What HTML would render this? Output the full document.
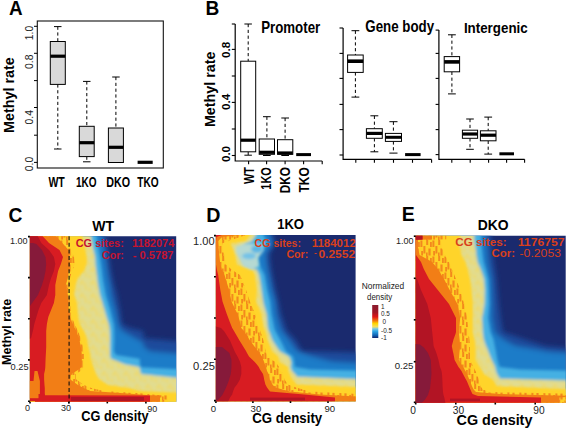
<!DOCTYPE html>
<html><head><meta charset="utf-8"><title>Figure</title>
<style>html,body{margin:0;padding:0;background:#fff;}body{width:567px;height:429px;overflow:hidden;}svg{display:block;font-family:'Liberation Sans', sans-serif;}</style></head><body>
<svg width="567" height="429" viewBox="0 0 567 429">
<rect width="567" height="429" fill="#fff"/>
<text x="9.0" y="15.1" font-size="20" font-weight="bold" textLength="13.6" lengthAdjust="spacingAndGlyphs">A</text>
<rect x="37.3" y="21" width="126.0" height="147.0" fill="#fff" stroke="#111" stroke-width="1.1"/>
<line x1="34.0" y1="26.3" x2="37.3" y2="26.3" stroke="#000" stroke-width="1"/>
<line x1="34.0" y1="53.3" x2="37.3" y2="53.3" stroke="#000" stroke-width="1"/>
<line x1="34.0" y1="80.6" x2="37.3" y2="80.6" stroke="#000" stroke-width="1"/>
<line x1="34.0" y1="107.5" x2="37.3" y2="107.5" stroke="#000" stroke-width="1"/>
<line x1="34.0" y1="135.2" x2="37.3" y2="135.2" stroke="#000" stroke-width="1"/>
<line x1="34.0" y1="162.4" x2="37.3" y2="162.4" stroke="#000" stroke-width="1"/>
<text x="33.3" y="33.0" font-size="10" fill="#222" text-anchor="middle" textLength="14.4" lengthAdjust="spacingAndGlyphs" transform="rotate(-90 33.3 33.0)">1.0</text>
<text x="33.3" y="61.8" font-size="10" fill="#222" text-anchor="middle" textLength="14.4" lengthAdjust="spacingAndGlyphs" transform="rotate(-90 33.3 61.8)">0.8</text>
<text x="33.3" y="117.2" font-size="10" fill="#222" text-anchor="middle" textLength="14.4" lengthAdjust="spacingAndGlyphs" transform="rotate(-90 33.3 117.2)">0.4</text>
<text x="33.3" y="164.0" font-size="10" fill="#222" text-anchor="middle" textLength="14.4" lengthAdjust="spacingAndGlyphs" transform="rotate(-90 33.3 164.0)">0.0</text>
<text x="13.6" y="95.1" font-size="15.5" font-weight="bold" text-anchor="middle" textLength="75.6" lengthAdjust="spacingAndGlyphs" transform="rotate(-90 13.6 95.1)">Methyl rate</text>
<line x1="57.8" y1="26.6" x2="57.8" y2="41.5" stroke="#000" stroke-width="1" stroke-dasharray="3.2,2.6"/>
<line x1="57.8" y1="84.4" x2="57.8" y2="149.0" stroke="#000" stroke-width="1" stroke-dasharray="3.2,2.6"/>
<line x1="54.0" y1="26.6" x2="61.5" y2="26.6" stroke="#000" stroke-width="1"/>
<line x1="54.0" y1="149.0" x2="61.5" y2="149.0" stroke="#000" stroke-width="1"/>
<rect x="50.3" y="41.5" width="15.0" height="42.9" fill="#d9d9d9" stroke="#000" stroke-width="1"/>
<line x1="50.3" y1="56.2" x2="65.3" y2="56.2" stroke="#000" stroke-width="3.2"/>
<line x1="86.8" y1="81.4" x2="86.8" y2="126.3" stroke="#000" stroke-width="1" stroke-dasharray="3.2,2.6"/>
<line x1="86.8" y1="156.6" x2="86.8" y2="161.8" stroke="#000" stroke-width="1" stroke-dasharray="3.2,2.6"/>
<line x1="83.0" y1="81.4" x2="90.5" y2="81.4" stroke="#000" stroke-width="1"/>
<line x1="83.0" y1="161.8" x2="90.5" y2="161.8" stroke="#000" stroke-width="1"/>
<rect x="79.3" y="126.3" width="14.9" height="30.3" fill="#d9d9d9" stroke="#000" stroke-width="1"/>
<line x1="79.3" y1="142.7" x2="94.2" y2="142.7" stroke="#000" stroke-width="3.2"/>
<line x1="115.9" y1="77.0" x2="115.9" y2="128.0" stroke="#000" stroke-width="1" stroke-dasharray="3.2,2.6"/>
<line x1="115.9" y1="162.5" x2="115.9" y2="162.5" stroke="#000" stroke-width="1" stroke-dasharray="3.2,2.6"/>
<line x1="112.2" y1="77.0" x2="119.7" y2="77.0" stroke="#000" stroke-width="1"/>
<line x1="112.2" y1="162.5" x2="119.7" y2="162.5" stroke="#000" stroke-width="1"/>
<rect x="108.4" y="128.0" width="15.0" height="34.5" fill="#d9d9d9" stroke="#000" stroke-width="1"/>
<line x1="108.4" y1="147.3" x2="123.4" y2="147.3" stroke="#000" stroke-width="3.2"/>
<line x1="137.6" y1="162.3" x2="152.7" y2="162.3" stroke="#000" stroke-width="3.2"/>
<text x="56.6" y="187.0" font-size="15.4" font-weight="bold" text-anchor="middle" textLength="16.4" lengthAdjust="spacingAndGlyphs">WT</text>
<text x="86.2" y="187.0" font-size="15.4" font-weight="bold" text-anchor="middle" textLength="20.6" lengthAdjust="spacingAndGlyphs">1KO</text>
<text x="118.1" y="187.0" font-size="15.4" font-weight="bold" text-anchor="middle" textLength="23.8" lengthAdjust="spacingAndGlyphs">DKO</text>
<text x="148.0" y="187.0" font-size="15.4" font-weight="bold" text-anchor="middle" textLength="21.4" lengthAdjust="spacingAndGlyphs">TKO</text>
<text x="205.6" y="15.1" font-size="20" font-weight="bold" textLength="13.8" lengthAdjust="spacingAndGlyphs">B</text>
<path d="M235.2 24 V161 H322.2" fill="none" stroke="#000" stroke-width="1.2"/>
<line x1="231.8" y1="24.0" x2="235.2" y2="24.0" stroke="#000" stroke-width="1.1"/>
<line x1="231.8" y1="49.4" x2="235.2" y2="49.4" stroke="#000" stroke-width="1.1"/>
<line x1="231.8" y1="76.0" x2="235.2" y2="76.0" stroke="#000" stroke-width="1.1"/>
<line x1="231.8" y1="102.4" x2="235.2" y2="102.4" stroke="#000" stroke-width="1.1"/>
<line x1="231.8" y1="129.0" x2="235.2" y2="129.0" stroke="#000" stroke-width="1.1"/>
<line x1="231.8" y1="155.5" x2="235.2" y2="155.5" stroke="#000" stroke-width="1.1"/>
<line x1="248.6" y1="161.0" x2="248.6" y2="164.3" stroke="#000" stroke-width="1.1"/>
<line x1="266.6" y1="161.0" x2="266.6" y2="164.3" stroke="#000" stroke-width="1.1"/>
<line x1="285.1" y1="161.0" x2="285.1" y2="164.3" stroke="#000" stroke-width="1.1"/>
<line x1="303.6" y1="161.0" x2="303.6" y2="164.3" stroke="#000" stroke-width="1.1"/>
<line x1="322.2" y1="161.0" x2="322.2" y2="164.3" stroke="#000" stroke-width="1.1"/>
<text x="229.6" y="49.8" font-size="10.6" font-weight="bold" text-anchor="middle" textLength="16.2" lengthAdjust="spacingAndGlyphs" transform="rotate(-90 229.6 49.8)">0.8</text>
<text x="229.6" y="101.9" font-size="10.6" font-weight="bold" text-anchor="middle" textLength="16.2" lengthAdjust="spacingAndGlyphs" transform="rotate(-90 229.6 101.9)">0.4</text>
<text x="229.6" y="154.0" font-size="10.6" font-weight="bold" text-anchor="middle" textLength="16.2" lengthAdjust="spacingAndGlyphs" transform="rotate(-90 229.6 154.0)">0.0</text>
<text x="215.1" y="89.3" font-size="15.5" font-weight="bold" text-anchor="middle" textLength="75.6" lengthAdjust="spacingAndGlyphs" transform="rotate(-90 215.1 89.3)">Methyl rate</text>
<line x1="248.2" y1="24.0" x2="248.2" y2="61.2" stroke="#000" stroke-width="1" stroke-dasharray="3.2,2.6"/>
<line x1="248.2" y1="151.8" x2="248.2" y2="155.2" stroke="#000" stroke-width="1" stroke-dasharray="3.2,2.6"/>
<line x1="244.4" y1="24.0" x2="251.9" y2="24.0" stroke="#000" stroke-width="1"/>
<line x1="244.4" y1="155.2" x2="251.9" y2="155.2" stroke="#000" stroke-width="1"/>
<rect x="240.7" y="61.2" width="15.0" height="90.6" fill="#fff" stroke="#000" stroke-width="1"/>
<line x1="240.7" y1="140.2" x2="255.7" y2="140.2" stroke="#000" stroke-width="3.2"/>
<line x1="266.9" y1="116.7" x2="266.9" y2="139.0" stroke="#000" stroke-width="1" stroke-dasharray="3.2,2.6"/>
<line x1="266.9" y1="154.3" x2="266.9" y2="155.5" stroke="#000" stroke-width="1" stroke-dasharray="3.2,2.6"/>
<line x1="263.0" y1="116.7" x2="270.7" y2="116.7" stroke="#000" stroke-width="1"/>
<line x1="263.0" y1="155.5" x2="270.7" y2="155.5" stroke="#000" stroke-width="1"/>
<rect x="259.2" y="139.0" width="15.3" height="15.3" fill="#fff" stroke="#000" stroke-width="1"/>
<line x1="259.2" y1="152.3" x2="274.5" y2="152.3" stroke="#000" stroke-width="3.2"/>
<line x1="285.1" y1="118.0" x2="285.1" y2="139.7" stroke="#000" stroke-width="1" stroke-dasharray="3.2,2.6"/>
<line x1="285.1" y1="154.3" x2="285.1" y2="155.5" stroke="#000" stroke-width="1" stroke-dasharray="3.2,2.6"/>
<line x1="281.3" y1="118.0" x2="289.0" y2="118.0" stroke="#000" stroke-width="1"/>
<line x1="281.3" y1="155.5" x2="289.0" y2="155.5" stroke="#000" stroke-width="1"/>
<rect x="277.5" y="139.7" width="15.3" height="14.6" fill="#fff" stroke="#000" stroke-width="1"/>
<line x1="277.5" y1="153.0" x2="292.8" y2="153.0" stroke="#000" stroke-width="3.2"/>
<line x1="296.2" y1="154.6" x2="311.0" y2="154.6" stroke="#000" stroke-width="3.0"/>
<text x="261.2" y="32.7" font-size="16.3" font-weight="bold" textLength="59.0" lengthAdjust="spacingAndGlyphs">Promoter</text>
<text x="253.6" y="167.2" font-size="13.8" font-weight="bold" text-anchor="end" textLength="16.9" lengthAdjust="spacingAndGlyphs" transform="rotate(-90 253.6 167.2)">WT</text>
<text x="271.3" y="167.2" font-size="13.8" font-weight="bold" text-anchor="end" textLength="22.5" lengthAdjust="spacingAndGlyphs" transform="rotate(-90 271.3 167.2)">1KO</text>
<text x="289.6" y="167.2" font-size="13.8" font-weight="bold" text-anchor="end" textLength="26.1" lengthAdjust="spacingAndGlyphs" transform="rotate(-90 289.6 167.2)">DKO</text>
<text x="308.7" y="167.2" font-size="13.8" font-weight="bold" text-anchor="end" textLength="25.4" lengthAdjust="spacingAndGlyphs" transform="rotate(-90 308.7 167.2)">TKO</text>
<path d="M343.1 28 V159.4 H431.6" fill="none" stroke="#000" stroke-width="1.2"/>
<line x1="339.5" y1="28.0" x2="343.1" y2="28.0" stroke="#000" stroke-width="1.1"/>
<line x1="339.5" y1="53.4" x2="343.1" y2="53.4" stroke="#000" stroke-width="1.1"/>
<line x1="339.5" y1="78.4" x2="343.1" y2="78.4" stroke="#000" stroke-width="1.1"/>
<line x1="339.5" y1="104.4" x2="343.1" y2="104.4" stroke="#000" stroke-width="1.1"/>
<line x1="339.5" y1="129.6" x2="343.1" y2="129.6" stroke="#000" stroke-width="1.1"/>
<line x1="339.5" y1="155.0" x2="343.1" y2="155.0" stroke="#000" stroke-width="1.1"/>
<line x1="355.8" y1="159.4" x2="355.8" y2="162.8" stroke="#000" stroke-width="1.1"/>
<line x1="374.4" y1="159.4" x2="374.4" y2="162.8" stroke="#000" stroke-width="1.1"/>
<line x1="393.5" y1="159.4" x2="393.5" y2="162.8" stroke="#000" stroke-width="1.1"/>
<line x1="412.5" y1="159.4" x2="412.5" y2="162.8" stroke="#000" stroke-width="1.1"/>
<line x1="431.6" y1="159.4" x2="431.6" y2="162.8" stroke="#000" stroke-width="1.1"/>
<line x1="355.4" y1="30.7" x2="355.4" y2="55.0" stroke="#000" stroke-width="1" stroke-dasharray="3.2,2.6"/>
<line x1="355.4" y1="72.4" x2="355.4" y2="97.1" stroke="#000" stroke-width="1" stroke-dasharray="3.2,2.6"/>
<line x1="351.5" y1="30.7" x2="359.3" y2="30.7" stroke="#000" stroke-width="1"/>
<line x1="351.5" y1="97.1" x2="359.3" y2="97.1" stroke="#000" stroke-width="1"/>
<rect x="347.6" y="55.0" width="15.6" height="17.4" fill="#fff" stroke="#000" stroke-width="1"/>
<line x1="347.6" y1="61.2" x2="363.2" y2="61.2" stroke="#000" stroke-width="3.6"/>
<line x1="374.4" y1="115.8" x2="374.4" y2="128.7" stroke="#000" stroke-width="1" stroke-dasharray="3.2,2.6"/>
<line x1="374.4" y1="138.3" x2="374.4" y2="151.8" stroke="#000" stroke-width="1" stroke-dasharray="3.2,2.6"/>
<line x1="370.4" y1="115.8" x2="378.3" y2="115.8" stroke="#000" stroke-width="1"/>
<line x1="370.4" y1="151.8" x2="378.3" y2="151.8" stroke="#000" stroke-width="1"/>
<rect x="366.4" y="128.7" width="15.9" height="9.6" fill="#fff" stroke="#000" stroke-width="1"/>
<line x1="366.4" y1="133.4" x2="382.3" y2="133.4" stroke="#000" stroke-width="3.2"/>
<line x1="393.4" y1="121.7" x2="393.4" y2="133.4" stroke="#000" stroke-width="1" stroke-dasharray="3.2,2.6"/>
<line x1="393.4" y1="141.4" x2="393.4" y2="153.1" stroke="#000" stroke-width="1" stroke-dasharray="3.2,2.6"/>
<line x1="389.4" y1="121.7" x2="397.5" y2="121.7" stroke="#000" stroke-width="1"/>
<line x1="389.4" y1="153.1" x2="397.5" y2="153.1" stroke="#000" stroke-width="1"/>
<rect x="385.4" y="133.4" width="16.1" height="8.0" fill="#fff" stroke="#000" stroke-width="1"/>
<line x1="385.4" y1="137.3" x2="401.5" y2="137.3" stroke="#000" stroke-width="3.0"/>
<line x1="405.1" y1="154.6" x2="420.6" y2="154.6" stroke="#000" stroke-width="3.0"/>
<text x="365.3" y="31.8" font-size="15.8" font-weight="bold" textLength="68.8" lengthAdjust="spacingAndGlyphs">Gene body</text>
<path d="M438.9 30.1 V159.3 H524.6" fill="none" stroke="#000" stroke-width="1.2"/>
<line x1="435.6" y1="30.1" x2="438.9" y2="30.1" stroke="#000" stroke-width="1.1"/>
<line x1="435.6" y1="53.4" x2="438.9" y2="53.4" stroke="#000" stroke-width="1.1"/>
<line x1="435.6" y1="78.4" x2="438.9" y2="78.4" stroke="#000" stroke-width="1.1"/>
<line x1="435.6" y1="104.4" x2="438.9" y2="104.4" stroke="#000" stroke-width="1.1"/>
<line x1="435.6" y1="129.6" x2="438.9" y2="129.6" stroke="#000" stroke-width="1.1"/>
<line x1="435.6" y1="154.6" x2="438.9" y2="154.6" stroke="#000" stroke-width="1.1"/>
<line x1="451.8" y1="159.3" x2="451.8" y2="162.7" stroke="#000" stroke-width="1.1"/>
<line x1="470.2" y1="159.3" x2="470.2" y2="162.7" stroke="#000" stroke-width="1.1"/>
<line x1="488.6" y1="159.3" x2="488.6" y2="162.7" stroke="#000" stroke-width="1.1"/>
<line x1="506.6" y1="159.3" x2="506.6" y2="162.7" stroke="#000" stroke-width="1.1"/>
<line x1="524.6" y1="159.3" x2="524.6" y2="162.7" stroke="#000" stroke-width="1.1"/>
<line x1="451.9" y1="34.8" x2="451.9" y2="56.6" stroke="#000" stroke-width="1" stroke-dasharray="3.2,2.6"/>
<line x1="451.9" y1="71.8" x2="451.9" y2="93.9" stroke="#000" stroke-width="1" stroke-dasharray="3.2,2.6"/>
<line x1="448.0" y1="34.8" x2="455.8" y2="34.8" stroke="#000" stroke-width="1"/>
<line x1="448.0" y1="93.9" x2="455.8" y2="93.9" stroke="#000" stroke-width="1"/>
<rect x="444.2" y="56.6" width="15.4" height="15.2" fill="#fff" stroke="#000" stroke-width="1"/>
<line x1="444.2" y1="61.9" x2="459.6" y2="61.9" stroke="#000" stroke-width="3.6"/>
<line x1="470.0" y1="119.0" x2="470.0" y2="130.2" stroke="#000" stroke-width="1" stroke-dasharray="3.2,2.6"/>
<line x1="470.0" y1="138.3" x2="470.0" y2="149.3" stroke="#000" stroke-width="1" stroke-dasharray="3.2,2.6"/>
<line x1="466.2" y1="119.0" x2="473.8" y2="119.0" stroke="#000" stroke-width="1"/>
<line x1="466.2" y1="149.3" x2="473.8" y2="149.3" stroke="#000" stroke-width="1"/>
<rect x="462.4" y="130.2" width="15.2" height="8.1" fill="#fff" stroke="#000" stroke-width="1"/>
<line x1="462.4" y1="134.0" x2="477.6" y2="134.0" stroke="#000" stroke-width="3.2"/>
<line x1="488.2" y1="117.1" x2="488.2" y2="130.8" stroke="#000" stroke-width="1" stroke-dasharray="3.2,2.6"/>
<line x1="488.2" y1="140.8" x2="488.2" y2="154.1" stroke="#000" stroke-width="1" stroke-dasharray="3.2,2.6"/>
<line x1="484.3" y1="117.1" x2="492.1" y2="117.1" stroke="#000" stroke-width="1"/>
<line x1="484.3" y1="154.1" x2="492.1" y2="154.1" stroke="#000" stroke-width="1"/>
<rect x="480.4" y="130.8" width="15.6" height="10.0" fill="#fff" stroke="#000" stroke-width="1"/>
<line x1="480.4" y1="135.2" x2="496.0" y2="135.2" stroke="#000" stroke-width="3.2"/>
<line x1="499.4" y1="153.8" x2="514.0" y2="153.8" stroke="#000" stroke-width="3.0"/>
<text x="463.9" y="32.9" font-size="15.4" font-weight="bold" textLength="63.8" lengthAdjust="spacingAndGlyphs">Intergenic</text>
<defs><filter id="blur3" x="-20%" y="-20%" width="140%" height="140%"><feGaussianBlur stdDeviation="2.4"/></filter><filter id="blur2" x="-20%" y="-20%" width="140%" height="140%"><feGaussianBlur stdDeviation="1.7"/></filter><filter id="blur07" x="-20%" y="-20%" width="140%" height="140%"><feGaussianBlur stdDeviation="0.45"/></filter><filter id="blur1" x="-20%" y="-20%" width="140%" height="140%"><feGaussianBlur stdDeviation="1"/></filter><pattern id="spk" width="12" height="16" patternUnits="userSpaceOnUse"><rect width="12" height="16" fill="#ffd028"/><g fill="#f3891a"><rect x="0.4" y="0.5" width="2" height="6.5"/><rect x="3.4" y="6" width="2" height="7.5"/><rect x="6.2" y="0" width="2" height="5"/><rect x="8.4" y="8.5" width="2.2" height="7"/><rect x="10" y="2" width="1.8" height="5"/><rect x="1.2" y="11" width="1.8" height="4.5"/><rect x="6" y="12.5" width="1.6" height="3.5"/></g></pattern><pattern id="pspk" width="11" height="13" patternUnits="userSpaceOnUse"><rect width="11" height="13" fill="#e1dc90"/><g fill="#f6d648"><rect x="1" y="2" width="1.5" height="3"/><rect x="4.5" y="7" width="1.5" height="3.5"/><rect x="8" y="0.5" width="1.5" height="3"/><rect x="7" y="10" width="1.5" height="2.5"/><rect x="2.5" y="9.5" width="1.3" height="2.5"/></g></pattern><linearGradient id="cbar" x1="0" y1="0" x2="0" y2="1"><stop offset="0" stop-color="#8a1c2e"/><stop offset="0.22" stop-color="#a01424"/><stop offset="0.36" stop-color="#e01414"/><stop offset="0.47" stop-color="#f0700f"/><stop offset="0.56" stop-color="#ffd400"/><stop offset="0.66" stop-color="#f4e060"/><stop offset="0.72" stop-color="#7cc8e4"/><stop offset="0.80" stop-color="#2ca4e4"/><stop offset="0.92" stop-color="#0f62b4"/><stop offset="1" stop-color="#10246c"/></linearGradient></defs>
<clipPath id="clipC"><rect x="29.9" y="236.2" width="146.3" height="165.6"/></clipPath>
<g clip-path="url(#clipC)">
<rect x="24.9" y="231.2" width="156.3" height="175.6" fill="#1a2a6e"/>
<g filter="url(#blur3)">
<polygon points="17.9,224.2 106.0,224.2 106.0,236.2 107.0,243.0 108.0,250.0 109.0,257.0 110.0,264.0 111.0,271.0 112.5,278.0 114.0,285.0 117.0,295.0 118.5,303.0 120.0,310.0 121.0,317.0 122.1,324.0 130.0,328.0 143.0,331.0 144.0,338.3 190.2,342.6 190.2,347.0 190.2,351.6 190.2,355.0 190.2,358.7 190.2,364.3 190.2,367.2 190.2,370.0 190.2,374.0 190.2,379.2 190.2,385.0 190.2,388.3 190.2,391.0 190.2,393.3 190.2,395.3 190.2,395.4 190.2,402.5 190.2,414.5 17.9,414.5" fill="#1c4c9c"/>
<polygon points="17.9,224.2 102.0,224.2 102.0,236.2 103.0,243.0 104.0,250.0 105.0,257.0 106.0,264.0 107.0,271.0 108.0,278.0 109.5,285.0 111.0,295.0 113.0,303.0 115.0,310.0 116.5,317.0 118.0,324.0 119.5,328.0 122.0,331.0 135.0,338.3 143.0,342.6 143.5,347.0 150.0,351.6 190.2,355.0 190.2,358.7 190.2,364.3 190.2,367.2 190.2,370.0 190.2,374.0 190.2,379.2 190.2,385.0 190.2,388.3 190.2,391.0 190.2,393.3 190.2,395.3 190.2,395.4 190.2,402.5 190.2,414.5 17.9,414.5" fill="#1f7cc8"/>
</g>
<g filter="url(#blur2)">
<polygon points="17.9,224.2 96.5,224.2 96.5,236.2 97.3,243.0 98.5,250.0 99.8,257.0 100.8,264.0 101.8,271.0 102.6,278.0 103.8,285.0 105.6,295.0 108.0,303.0 110.1,310.0 111.8,317.0 113.6,324.0 114.0,328.0 114.2,331.0 114.3,338.3 114.3,342.6 114.0,347.0 114.0,351.6 116.0,355.0 139.7,358.7 140.0,364.3 141.0,367.2 190.2,370.0 190.2,374.0 190.2,379.2 190.2,385.0 190.2,388.3 190.2,391.0 190.2,393.3 190.2,395.3 190.2,395.4 190.2,402.5 190.2,414.5 17.9,414.5" fill="#44b0e3"/>
<polygon points="17.9,224.2 91.0,224.2 91.0,236.2 92.0,243.0 93.5,250.0 95.0,257.0 95.5,264.0 96.2,271.0 97.2,278.0 98.0,285.0 100.0,295.0 102.4,303.0 104.5,310.0 106.6,317.0 108.7,324.0 109.5,328.0 109.9,331.0 110.1,338.3 110.0,342.6 110.0,347.0 110.0,351.6 110.0,355.0 111.0,358.7 125.0,364.3 139.7,367.2 140.0,370.0 141.0,374.0 190.2,379.2 190.2,385.0 190.2,388.3 190.2,391.0 190.2,393.3 190.2,395.3 190.2,395.4 190.2,402.5 190.2,414.5 17.9,414.5" fill="url(#pspk)"/>
</g>
<g filter="url(#blur1)">
<polygon points="17.9,224.2 82.6,224.2 82.6,236.2 84.0,243.0 85.4,250.0 86.8,257.0 86.8,264.0 84.0,271.0 78.0,278.0 75.6,285.0 74.2,295.0 77.0,303.0 77.7,310.0 78.4,317.0 79.8,324.0 82.0,328.0 84.0,331.0 86.8,338.3 87.6,342.6 88.6,347.0 89.6,351.6 90.3,355.0 90.8,358.7 92.5,364.3 93.8,367.2 94.5,370.0 96.0,374.0 99.0,379.2 108.0,385.0 130.0,388.3 140.0,391.0 190.2,393.3 190.2,395.3 190.2,395.4 190.2,402.5 190.2,414.5 17.9,414.5" fill="#ffd42a"/>
</g>
<g filter="url(#blur07)">
<polygon points="17.9,224.2 68.6,224.2 68.6,236.2 68.6,243.0 71.0,250.0 74.0,257.0 75.0,264.0 72.0,271.0 70.0,278.0 69.0,285.0 69.5,295.0 70.0,303.0 70.5,310.0 72.0,317.0 74.5,324.0 76.5,328.0 78.0,331.0 81.0,338.3 82.0,342.6 83.0,347.0 84.0,351.6 84.0,355.0 84.0,358.7 84.0,364.3 84.0,367.2 82.0,370.0 76.0,374.0 76.0,379.2 84.0,385.0 92.0,388.3 104.0,391.0 140.0,393.3 160.0,395.3 168.0,395.4 168.0,402.5 168.0,414.5 17.9,414.5" fill="url(#spk)"/>
</g>
<polygon points="17.9,224.2 56.0,224.2 56.0,236.2 62.3,243.0 68.6,250.0 69.5,257.0 70.0,264.0 68.6,271.0 67.9,278.0 65.8,285.0 67.9,295.0 68.6,303.0 68.6,310.0 70.0,317.0 72.8,324.0 74.8,328.0 76.3,331.0 79.1,338.3 80.0,342.6 80.8,347.0 81.5,351.6 81.9,355.0 81.9,358.7 81.5,364.3 81.2,367.2 78.0,370.0 71.4,374.0 70.0,379.2 78.0,385.0 84.0,388.3 90.0,391.0 124.0,393.3 150.0,395.3 160.0,395.4 160.0,402.5 160.0,414.5 17.9,414.5" fill="#f27e16"/>
<polygon points="17.9,224.2 42.7,224.2 42.7,236.2 49.0,243.0 59.5,250.0 63.0,257.0 60.9,264.0 58.1,271.0 56.7,278.0 55.3,285.0 55.3,295.0 53.9,303.0 51.1,310.0 48.3,317.0 46.9,324.0 46.5,328.0 46.2,331.0 46.2,338.3 46.2,342.6 46.2,347.0 46.0,351.6 45.8,355.0 45.6,358.7 45.4,364.3 45.3,367.2 45.0,370.0 44.1,374.0 44.1,379.2 44.5,385.0 44.8,388.3 44.8,391.0 44.8,393.3 45.0,395.3 150.0,395.4 150.0,402.5 150.0,414.5 17.9,414.5" fill="#d81c22"/>
<polygon points="17.9,224.2 37.8,224.2 37.8,236.2 41.3,243.0 49.0,250.0 53.9,257.0 55.3,264.0 53.9,271.0 51.1,278.0 49.0,285.0 46.9,295.0 41.3,303.0 38.5,310.0 36.4,317.0 34.3,324.0 33.5,328.0 32.9,331.0 31.0,338.3 20.0,342.6 20.0,347.0 20.0,351.6 20.0,355.0 20.0,358.7 20.0,364.3 20.0,367.2 20.0,370.0 20.0,374.0 20.0,379.2 20.0,385.0 20.0,388.3 20.0,391.0 20.0,393.3 20.0,395.3 20.0,395.4 20.0,402.5 20.0,414.5 17.9,414.5" fill="#b21424"/>
<polygon points="30,243 33,243 36.4,244 42,250 45.5,257 46.2,264 45.5,271 44.1,278 42,285 38,295 34,300.5 30,306" fill="#861a3a"/><rect x="71" y="397" width="73" height="4" fill="#b21424"/><polygon points="29,381 33.5,381 34.5,371 37.5,371 39.9,381 39.9,394 29,394" fill="#f27e16"/><rect x="29" y="401" width="6" height="2" fill="#ffd42a"/><rect x="29" y="394" width="9.5" height="4.2" fill="#f27e16"/>
</g>
<line x1="69.1" y1="236.2" x2="69.1" y2="403.4" stroke="#111" stroke-width="1.1" stroke-dasharray="4,2.6"/>
<clipPath id="clipD"><rect x="215.9" y="235.1" width="139.7" height="166.1"/></clipPath>
<g clip-path="url(#clipD)">
<rect x="210.9" y="230.1" width="149.7" height="176.1" fill="#1a2a6e"/>
<g filter="url(#blur3)">
<polygon points="203.9,223.1 272.8,223.1 272.8,235.1 273.5,237.0 274.9,241.3 275.3,243.5 269.6,254.0 270.7,264.5 271.5,270.0 272.4,275.0 275.5,289.7 278.4,301.4 281.0,314.0 283.8,322.0 286.0,328.0 287.0,331.0 296.0,340.6 302.0,351.0 369.6,353.0 369.6,356.5 369.6,361.7 369.6,364.0 369.6,367.0 369.6,369.5 369.6,371.0 369.6,374.0 369.6,376.8 369.6,379.8 369.6,384.5 369.6,387.6 369.6,391.5 369.6,394.5 369.6,397.4 369.6,402.0 369.6,414.0 203.9,414.0" fill="#1c4c9c"/>
<polygon points="203.9,223.1 269.0,223.1 269.0,235.1 270.0,237.0 271.7,241.3 272.8,243.5 265.4,254.0 266.5,264.5 267.5,270.0 268.6,275.0 271.5,289.7 275.0,301.4 276.0,314.0 278.3,322.0 280.0,328.0 281.5,331.0 289.0,340.6 296.3,351.0 302.0,353.0 312.0,356.5 332.0,361.7 369.6,364.0 369.6,367.0 369.6,369.5 369.6,371.0 369.6,374.0 369.6,376.8 369.6,379.8 369.6,384.5 369.6,387.6 369.6,391.5 369.6,394.5 369.6,397.4 369.6,402.0 369.6,414.0 203.9,414.0" fill="#1f7cc8"/>
</g>
<g filter="url(#blur2)">
<polygon points="203.9,223.1 263.3,223.1 263.3,235.1 264.5,237.0 266.5,241.3 268.6,243.5 257.0,254.0 259.1,264.5 261.9,270.0 264.4,275.0 267.0,289.7 270.0,301.4 271.4,314.0 273.0,322.0 274.2,328.0 275.2,331.0 280.5,340.6 285.7,351.0 288.0,353.0 293.0,356.5 294.2,361.7 294.4,364.0 294.7,367.0 310.0,369.5 369.6,371.0 369.6,374.0 369.6,376.8 369.6,379.8 369.6,384.5 369.6,387.6 369.6,391.5 369.6,394.5 369.6,397.4 369.6,402.0 369.6,414.0 203.9,414.0" fill="#44b0e3"/>
<polygon points="203.9,223.1 256.0,223.1 256.0,235.1 254.5,237.0 251.8,241.3 245.5,243.5 239.2,254.0 245.5,264.5 257.0,270.0 259.1,275.0 261.5,289.7 263.0,301.4 266.5,314.0 267.3,322.0 267.9,328.0 268.8,331.0 272.5,340.6 279.4,351.0 282.5,353.0 289.0,356.5 291.0,361.7 291.0,364.0 290.5,367.0 291.5,369.5 292.0,371.0 295.0,374.0 297.0,376.8 369.6,379.8 369.6,384.5 369.6,387.6 369.6,391.5 369.6,394.5 369.6,397.4 369.6,402.0 369.6,414.0 203.9,414.0" fill="url(#pspk)"/>
</g>
<g filter="url(#blur1)">
<polygon points="203.9,223.1 250.0,223.1 250.0,235.1 249.0,237.0 245.5,241.3 230.8,243.5 235.0,254.0 237.1,264.5 252.8,270.0 254.9,275.0 257.0,289.7 256.0,301.4 261.6,314.0 262.8,322.0 263.7,328.0 265.6,331.0 267.8,340.6 272.0,351.0 274.0,353.0 278.3,356.5 279.4,361.7 283.0,364.0 287.9,367.0 288.2,369.5 288.5,371.0 289.5,374.0 291.0,376.8 293.0,379.8 297.0,384.5 369.6,387.6 369.6,391.5 369.6,394.5 369.6,397.4 369.6,402.0 369.6,414.0 203.9,414.0" fill="#ffd42a"/>
</g>
<g filter="url(#blur07)">
<polygon points="203.9,223.1 246.0,223.1 246.0,235.1 240.0,237.0 228.0,241.3 222.0,243.5 224.0,254.0 226.0,264.5 232.0,270.0 240.0,275.0 246.0,289.7 250.0,301.4 255.0,314.0 257.0,322.0 259.0,328.0 260.3,331.0 263.5,340.6 265.6,351.0 266.3,353.0 267.8,356.5 275.0,361.7 277.0,364.0 279.0,367.0 280.0,369.5 281.0,371.0 283.0,374.0 283.7,376.8 284.6,379.8 288.0,384.5 296.0,387.6 310.0,391.5 369.6,394.5 369.6,397.4 369.6,402.0 369.6,414.0 203.9,414.0" fill="url(#spk)"/>
</g>
<polygon points="203.9,223.1 240.0,223.1 240.0,235.1 222.0,237.0 218.0,241.3 218.2,243.5 219.2,254.0 220.3,264.5 222.0,270.0 224.5,275.0 229.0,289.7 231.5,301.4 237.5,314.0 240.0,322.0 241.3,328.0 244.0,331.0 250.0,340.6 258.0,351.0 259.5,353.0 262.0,356.5 264.0,361.7 264.8,364.0 265.8,367.0 266.5,369.5 267.0,371.0 268.6,374.0 269.2,376.8 269.8,379.8 272.4,384.5 275.2,387.6 290.0,391.5 320.0,394.5 369.6,397.4 369.6,402.0 369.6,414.0 203.9,414.0" fill="#f27e16"/>
<polygon points="203.9,223.1 222.0,223.1 222.0,235.1 216.5,237.0 216.0,241.3 216.0,243.5 216.0,254.0 216.0,264.5 216.9,270.0 218.2,275.0 220.3,289.7 222.5,301.4 226.8,314.0 229.8,322.0 232.2,328.0 234.0,331.0 239.5,340.6 246.0,351.0 247.0,353.0 249.0,356.5 254.5,361.7 256.5,364.0 258.8,367.0 260.0,369.5 261.0,371.0 263.0,374.0 263.7,376.8 264.2,379.8 265.4,384.5 267.0,387.6 270.0,391.5 304.0,394.5 335.0,397.4 335.0,402.0 335.0,414.0 203.9,414.0" fill="#d81c22"/>
<polygon points="203.9,223.1 200.0,223.1 200.0,235.1 200.0,237.0 200.0,241.3 200.0,243.5 200.0,254.0 200.0,264.5 200.0,270.0 200.0,275.0 200.0,289.7 200.0,301.4 200.0,314.0 200.0,322.0 221.0,328.0 224.0,331.0 230.0,340.6 234.5,351.0 235.5,353.0 237.5,356.5 240.0,361.7 240.6,364.0 241.3,367.0 241.3,369.5 241.3,371.0 241.3,374.0 240.6,376.8 239.8,379.8 237.0,384.5 234.6,387.6 233.0,391.5 232.2,394.5 230.0,397.4 228.0,402.0 228.0,414.0 203.9,414.0" fill="#b21424"/>
<g filter="url(#blur2)"><polygon points="236,246 246,243.5 262,244 264,250 258,258 259,266 252,270 243,266 239,258 236,252" fill="#b6d9d2"/><ellipse cx="249" cy="256" rx="7" ry="3.2" fill="#74c2e6"/><ellipse cx="257" cy="249" rx="6" ry="4" fill="#5cb6e4"/></g><polygon points="215,347 222,347 229.4,353 231.5,360 231.5,367 230.8,374 228.7,381 225.9,388 222.4,395 218,400 215,400" fill="#861a3a"/><rect x="250" y="397.6" width="55" height="2.8" fill="#b21424"/>
</g>
<clipPath id="clipE"><rect x="415.7" y="235.7" width="150.0" height="167.0"/></clipPath>
<g clip-path="url(#clipE)">
<rect x="410.7" y="230.7" width="160.0" height="177.0" fill="#1a2a6e"/>
<g filter="url(#blur3)">
<polygon points="403.7,223.7 491.0,223.7 491.0,235.7 491.0,239.6 491.0,239.7 492.0,248.0 493.0,255.0 493.8,262.0 495.0,269.0 496.5,279.0 497.5,290.0 498.8,304.0 500.5,318.0 503.0,332.0 509.0,334.0 525.0,339.6 545.0,346.0 579.7,349.4 579.7,352.0 579.7,354.0 579.7,360.0 579.7,367.0 579.7,369.5 579.7,371.0 579.7,374.0 579.7,378.8 579.7,381.0 579.7,386.3 579.7,389.6 579.7,392.0 579.7,394.0 579.7,396.0 579.7,397.6 579.7,403.5 579.7,415.5 403.7,415.5" fill="#1c4c9c"/>
<polygon points="403.7,223.7 486.0,223.7 486.0,235.7 486.0,239.6 486.0,239.7 486.5,248.0 487.0,255.0 487.6,262.0 489.0,269.0 491.0,279.0 491.6,290.0 492.0,304.0 492.0,318.0 494.5,332.0 496.5,334.0 503.0,339.6 515.0,346.0 535.0,349.4 548.0,352.0 579.7,354.0 579.7,360.0 579.7,367.0 579.7,369.5 579.7,371.0 579.7,374.0 579.7,378.8 579.7,381.0 579.7,386.3 579.7,389.6 579.7,392.0 579.7,394.0 579.7,396.0 579.7,397.6 579.7,403.5 579.7,415.5 403.7,415.5" fill="#1f7cc8"/>
</g>
<g filter="url(#blur2)">
<polygon points="403.7,223.7 481.0,223.7 481.0,235.7 481.0,239.6 481.0,239.7 481.8,248.0 482.5,255.0 483.5,262.0 485.5,269.0 488.1,279.0 488.8,290.0 489.2,304.0 488.1,318.0 490.5,332.0 491.3,334.0 493.5,339.6 494.8,346.0 495.5,349.4 496.0,352.0 496.3,354.0 497.4,360.0 499.5,367.0 520.0,369.5 579.7,371.0 579.7,374.0 579.7,378.8 579.7,381.0 579.7,386.3 579.7,389.6 579.7,392.0 579.7,394.0 579.7,396.0 579.7,397.6 579.7,403.5 579.7,415.5 403.7,415.5" fill="#44b0e3"/>
<polygon points="403.7,223.7 474.2,223.7 474.2,235.7 474.2,239.6 474.2,239.7 475.6,248.0 476.3,255.0 477.5,262.0 480.5,269.0 484.0,279.0 484.8,290.0 484.5,304.0 482.0,318.0 482.8,332.0 483.0,334.0 483.7,339.6 486.0,346.0 487.6,349.4 488.5,352.0 489.3,354.0 491.6,360.0 495.0,367.0 495.6,369.5 496.0,371.0 497.0,374.0 500.0,378.8 579.7,381.0 579.7,386.3 579.7,389.6 579.7,392.0 579.7,394.0 579.7,396.0 579.7,397.6 579.7,403.5 579.7,415.5 403.7,415.5" fill="url(#pspk)"/>
</g>
<g filter="url(#blur1)">
<polygon points="403.7,223.7 460.2,223.7 460.2,235.7 460.2,239.6 456.0,239.7 460.2,248.0 461.6,255.0 465.5,262.0 467.5,269.0 470.0,279.0 471.5,290.0 472.8,304.0 472.8,318.0 472.8,332.0 473.2,334.0 474.5,339.6 475.6,346.0 475.6,349.4 475.6,352.0 475.6,354.0 475.6,360.0 480.0,367.0 481.5,369.5 482.5,371.0 484.0,374.0 491.6,378.8 494.0,381.0 497.0,386.3 579.7,389.6 579.7,392.0 579.7,394.0 579.7,396.0 579.7,397.6 579.7,403.5 579.7,415.5 403.7,415.5" fill="#ffd42a"/>
</g>
<g filter="url(#blur07)">
<polygon points="403.7,223.7 446.2,223.7 446.2,235.7 446.2,239.6 440.6,239.7 442.0,248.0 444.8,255.0 449.0,262.0 451.8,269.0 456.0,279.0 460.2,290.0 464.4,304.0 467.2,318.0 468.6,332.0 468.8,334.0 469.4,339.6 470.0,346.0 470.0,349.4 470.0,352.0 470.0,354.0 470.0,360.0 473.5,367.0 474.7,369.5 475.5,371.0 477.0,374.0 478.5,378.8 479.2,381.0 480.4,386.3 483.0,389.6 490.0,392.0 579.7,394.0 579.7,396.0 579.7,397.6 579.7,403.5 579.7,415.5 403.7,415.5" fill="url(#spk)"/>
</g>
<polygon points="403.7,223.7 432.0,223.7 432.0,235.7 432.0,239.6 418.0,239.7 418.0,248.0 419.6,255.0 432.2,262.0 437.8,269.0 444.0,279.0 449.7,290.0 457.4,304.0 460.2,318.0 458.8,332.0 459.0,334.0 459.6,339.6 460.2,346.0 459.8,349.4 459.5,352.0 459.3,354.0 458.8,360.0 463.0,367.0 464.5,369.5 465.5,371.0 467.2,374.0 469.0,378.8 470.0,381.0 472.0,386.3 473.6,389.6 476.0,392.0 500.0,394.0 579.7,396.0 559.0,397.6 559.0,403.5 559.0,415.5 403.7,415.5" fill="#f27e16"/>
<polygon points="403.7,223.7 422.6,223.7 422.6,235.7 422.6,239.6 416.0,239.7 416.0,248.0 416.0,255.0 421.0,262.0 423.8,269.0 429.0,279.0 437.8,290.0 449.0,304.0 456.0,318.0 456.0,332.0 455.5,334.0 453.5,339.6 451.8,346.0 452.5,349.4 453.0,352.0 453.5,354.0 454.6,360.0 458.5,367.0 460.4,369.5 461.5,371.0 463.0,374.0 465.5,378.8 466.8,381.0 469.0,386.3 470.4,389.6 471.5,392.0 472.5,394.0 478.0,396.0 541.0,397.6 541.0,403.5 541.0,415.5 403.7,415.5" fill="#d81c22"/>
<polygon points="403.7,223.7 422.4,223.7 422.4,235.7 422.4,239.6 400.0,239.7 400.0,248.0 400.0,255.0 400.0,262.0 400.0,269.0 417.0,279.0 421.0,290.0 427.3,304.0 430.8,318.0 432.2,332.0 432.4,334.0 433.0,339.6 433.6,346.0 435.0,349.4 436.0,352.0 436.7,354.0 438.5,360.0 440.0,367.0 441.0,369.5 441.5,371.0 442.0,374.0 442.3,378.8 442.4,381.0 442.6,386.3 442.8,389.6 443.0,392.0 443.3,394.0 443.8,396.0 444.3,397.6 445.5,403.5 445.5,415.5 403.7,415.5" fill="#b21424"/>
<polygon points="415,344 420,344.5 423.8,347.4 428,353 430.8,360 431.5,374 430.1,388 428,395 425.2,399.2 422,402.7 415,402.7" fill="#861a3a"/><rect x="450" y="398.6" width="30" height="2.6" fill="#b21424"/>
</g>
<text x="8.4" y="221.6" font-size="20" font-weight="bold" textLength="13.9" lengthAdjust="spacingAndGlyphs">C</text>
<text x="103.2" y="231.2" font-size="14.6" font-weight="bold" text-anchor="middle" textLength="21.9" lengthAdjust="spacingAndGlyphs">WT</text>
<text x="75.7" y="247.1" font-size="10.6" font-weight="bold" fill="#c5142f" textLength="48.1" lengthAdjust="spacingAndGlyphs">CG sites:</text>
<text x="132.1" y="247.1" font-size="10.6" font-weight="bold" fill="#c5142f" textLength="42.2" lengthAdjust="spacingAndGlyphs">1182074</text>
<text x="102.1" y="259.4" font-size="10.6" font-weight="bold" fill="#c5142f" textLength="21.7" lengthAdjust="spacingAndGlyphs">Cor:</text>
<text x="132.8" y="259.4" font-size="10.6" font-weight="bold" fill="#c5142f" textLength="40.7" lengthAdjust="spacingAndGlyphs">- 0.5787</text>
<text x="27.5" y="243.7" font-size="8.4" fill="#222" text-anchor="end" textLength="17.6" lengthAdjust="spacingAndGlyphs">1.00</text>
<text x="28.6" y="369.7" font-size="8.7" fill="#222" text-anchor="end" textLength="18.0" lengthAdjust="spacingAndGlyphs">0.25</text>
<text x="10.6" y="331.9" font-size="13" font-weight="bold" text-anchor="middle" textLength="66.0" lengthAdjust="spacingAndGlyphs" transform="rotate(-90 10.6 331.9)">Methyl rate</text>
<line x1="28.0" y1="236.6" x2="29.9" y2="236.6" stroke="#000" stroke-width="1.6"/>
<line x1="28.0" y1="277.6" x2="29.9" y2="277.6" stroke="#000" stroke-width="1.6"/>
<line x1="28.0" y1="318.8" x2="29.9" y2="318.8" stroke="#000" stroke-width="1.6"/>
<line x1="28.0" y1="359.9" x2="29.9" y2="359.9" stroke="#000" stroke-width="1.6"/>
<line x1="28.0" y1="401.2" x2="29.9" y2="401.2" stroke="#000" stroke-width="1.6"/>
<line x1="30.0" y1="401.8" x2="30.0" y2="403.4" stroke="#000" stroke-width="1.6"/>
<line x1="68.8" y1="401.8" x2="68.8" y2="403.4" stroke="#000" stroke-width="1.6"/>
<line x1="107.3" y1="401.8" x2="107.3" y2="403.4" stroke="#000" stroke-width="1.6"/>
<line x1="145.9" y1="401.8" x2="145.9" y2="403.4" stroke="#000" stroke-width="1.6"/>
<text x="27.6" y="411.4" font-size="9.0" fill="#222" text-anchor="middle">0</text>
<text x="66.1" y="411.4" font-size="9.0" fill="#222" text-anchor="middle">30</text>
<text x="152.2" y="411.6" font-size="9.0" fill="#222" text-anchor="middle">90</text>
<text x="81.2" y="421.2" font-size="13.9" font-weight="bold" textLength="67.4" lengthAdjust="spacingAndGlyphs">CG density</text>
<text x="206.2" y="221.7" font-size="20" font-weight="bold" textLength="14.2" lengthAdjust="spacingAndGlyphs">D</text>
<text x="290.6" y="229.3" font-size="14.6" font-weight="bold" text-anchor="middle" textLength="26.8" lengthAdjust="spacingAndGlyphs">1KO</text>
<text x="254.6" y="246.9" font-size="10.6" font-weight="bold" fill="#d8401c" textLength="46.4" lengthAdjust="spacingAndGlyphs">CG sites:</text>
<text x="311.7" y="246.9" font-size="10.6" font-weight="bold" fill="#d8401c" textLength="44.1" lengthAdjust="spacingAndGlyphs">1184012</text>
<text x="286.4" y="257.6" font-size="10.6" font-weight="bold" fill="#d8401c" textLength="21.9" lengthAdjust="spacingAndGlyphs">Cor:</text>
<text x="314.0" y="254.5" font-size="8" font-weight="bold" fill="#d8401c">-</text>
<text x="318.4" y="257.6" font-size="10.6" font-weight="bold" fill="#d8401c" textLength="36.8" lengthAdjust="spacingAndGlyphs">0.2552</text>
<text x="214.6" y="245.4" font-size="11.1" fill="#222" text-anchor="end" textLength="21.5" lengthAdjust="spacingAndGlyphs">1.00</text>
<text x="214.9" y="369.7" font-size="11.3" fill="#222" text-anchor="end" textLength="21.8" lengthAdjust="spacingAndGlyphs">0.25</text>
<line x1="214.0" y1="235.6" x2="215.9" y2="235.6" stroke="#000" stroke-width="1.6"/>
<line x1="214.0" y1="276.8" x2="215.9" y2="276.8" stroke="#000" stroke-width="1.6"/>
<line x1="214.0" y1="318.0" x2="215.9" y2="318.0" stroke="#000" stroke-width="1.6"/>
<line x1="214.0" y1="359.2" x2="215.9" y2="359.2" stroke="#000" stroke-width="1.6"/>
<line x1="214.0" y1="400.6" x2="215.9" y2="400.6" stroke="#000" stroke-width="1.6"/>
<line x1="215.9" y1="401.2" x2="215.9" y2="403.0" stroke="#000" stroke-width="1.6"/>
<line x1="252.9" y1="401.2" x2="252.9" y2="403.0" stroke="#000" stroke-width="1.6"/>
<line x1="290.5" y1="401.2" x2="290.5" y2="403.0" stroke="#000" stroke-width="1.6"/>
<line x1="328.0" y1="401.2" x2="328.0" y2="403.0" stroke="#000" stroke-width="1.6"/>
<text x="213.4" y="411.6" font-size="9.6" fill="#222" text-anchor="middle">0</text>
<text x="255.9" y="411.9" font-size="9.6" fill="#222" text-anchor="middle">30</text>
<text x="329.8" y="411.9" font-size="9.6" fill="#222" text-anchor="middle">90</text>
<text x="252.2" y="422.6" font-size="15" font-weight="bold" textLength="70.0" lengthAdjust="spacingAndGlyphs">CG density</text>
<text x="401.8" y="221.4" font-size="20" font-weight="bold" textLength="13.0" lengthAdjust="spacingAndGlyphs">E</text>
<text x="493.2" y="230.2" font-size="14.6" font-weight="bold" text-anchor="middle" textLength="30.9" lengthAdjust="spacingAndGlyphs">DKO</text>
<text x="455.2" y="246.4" font-size="10.8" font-weight="bold" fill="#d8401c" textLength="51.5" lengthAdjust="spacingAndGlyphs">CG sites:</text>
<text x="517.7" y="246.4" font-size="10.8" font-weight="bold" fill="#d8401c" textLength="47.0" lengthAdjust="spacingAndGlyphs">1176757</text>
<text x="491.5" y="257.0" font-size="10.8" font-weight="bold" fill="#d8401c" textLength="23.5" lengthAdjust="spacingAndGlyphs">Cor:</text>
<text x="519.5" y="257.0" font-size="10.8" fill="#d8401c" textLength="41.5" lengthAdjust="spacingAndGlyphs">-0.2053</text>
<text x="413.5" y="244.4" font-size="9.2" fill="#222" text-anchor="end" textLength="17.6" lengthAdjust="spacingAndGlyphs">1.00</text>
<text x="413.5" y="369.3" font-size="9.8" fill="#222" text-anchor="end" textLength="18.8" lengthAdjust="spacingAndGlyphs">0.25</text>
<line x1="413.8" y1="236.2" x2="415.7" y2="236.2" stroke="#000" stroke-width="1.6"/>
<line x1="413.8" y1="278.3" x2="415.7" y2="278.3" stroke="#000" stroke-width="1.6"/>
<line x1="413.8" y1="319.8" x2="415.7" y2="319.8" stroke="#000" stroke-width="1.6"/>
<line x1="413.8" y1="361.7" x2="415.7" y2="361.7" stroke="#000" stroke-width="1.6"/>
<line x1="413.8" y1="402.3" x2="415.7" y2="402.3" stroke="#000" stroke-width="1.6"/>
<line x1="415.7" y1="402.7" x2="415.7" y2="404.5" stroke="#000" stroke-width="1.6"/>
<line x1="455.8" y1="402.7" x2="455.8" y2="404.5" stroke="#000" stroke-width="1.6"/>
<line x1="495.3" y1="402.7" x2="495.3" y2="404.5" stroke="#000" stroke-width="1.6"/>
<line x1="535.2" y1="402.7" x2="535.2" y2="404.5" stroke="#000" stroke-width="1.6"/>
<text x="413.2" y="414.0" font-size="10.2" fill="#222" text-anchor="middle">0</text>
<text x="458.4" y="414.0" font-size="10.2" fill="#222" text-anchor="middle">30</text>
<text x="539.0" y="414.0" font-size="10.2" fill="#222" text-anchor="middle">90</text>
<text x="456.6" y="424.7" font-size="15.5" font-weight="bold" textLength="75.8" lengthAdjust="spacingAndGlyphs">CG density</text>
<text x="383.0" y="288.9" font-size="8.4" fill="#222" text-anchor="middle" textLength="42.4" lengthAdjust="spacingAndGlyphs">Normalized</text>
<text x="379.6" y="300.0" font-size="8.4" fill="#222" text-anchor="middle" textLength="25.0" lengthAdjust="spacingAndGlyphs">density</text>
<rect x="372.2" y="305" width="6.1" height="33" fill="url(#cbar)"/>
<text x="381.0" y="309.0" font-size="6.4" fill="#222">1</text>
<text x="381.0" y="316.3" font-size="6.4" fill="#222">0.5</text>
<text x="382.6" y="324.2" font-size="6.4" fill="#222">0</text>
<text x="381.0" y="332.8" font-size="6.4" fill="#222">-0.5</text>
<text x="381.0" y="340.2" font-size="6.4" fill="#222">-1</text>
</svg></body></html>
